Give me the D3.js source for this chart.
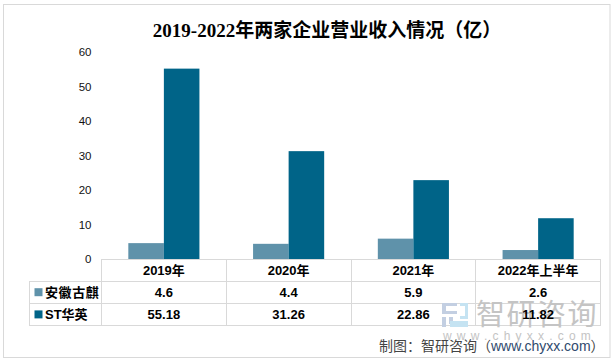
<!DOCTYPE html>
<html lang="zh">
<head>
<meta charset="UTF-8"/>
<script src="https://d3js.org/d3.v7.min.js"></script>
<style>
html, body { margin: 0; padding: 0; background: #fff; }
svg { display: block; }
text { font-family: 'Liberation Sans', 'Noto Sans CJK SC', sans-serif; fill: #000; }
.title { font-family: 'Liberation Serif', 'Noto Sans CJK SC', serif; font-size: 19px; font-weight: 700; }
.axis text { font-family: 'Liberation Sans', sans-serif; font-size: 11.5px; fill: #111; }
.cell { font-size: 13px; font-weight: 700; }
.grid line { stroke: #d9d9d9; stroke-width: 1; }
</style>
</head>
<body>
<svg id="chart" width="615" height="363"></svg>
<script>
const categories = ['2019年', '2020年', '2021年', '2022年上半年'];
const seriesNames = ['安徽古麒', 'ST华英'];
const anhui = [4.6, 4.4, 5.9, 2.6];
const huaying = [55.18, 31.26, 22.86, 11.82];
const anhuiLabels = ['4.6', '4.4', '5.9', '2.6'];
const huayingLabels = ['55.18', '31.26', '22.86', '11.82'];
const yTicks = [0, 10, 20, 30, 40, 50, 60];
const colors = ['#5f92aa', '#006488'];

const svg = d3.select('#chart');

const margin = { left: 101.5, right: 600.5, top: 52, bottom: 259 };
const rowH = 22.2;
const legendLeft = 29.5;

// outer frame
svg.append('rect')
  .attr('x', 3.5).attr('y', 4.5)
  .attr('width', 606.5).attr('height', 353)
  .attr('fill', '#fff')
  .attr('stroke', '#d9d9d9');

svg.append('text')
  .attr('class', 'title')
  .attr('x', 327).attr('y', 37)
  .attr('text-anchor', 'middle')
  .text('2019-2022年两家企业营业收入情况（亿）');

const x = d3.scaleBand().domain(categories).range([margin.left, margin.right]);
const y = d3.scaleLinear().domain([0, 60]).range([margin.bottom, margin.top]);
const barW = x.bandwidth() * 0.285;

// y axis, labels only
const yAxis = svg.append('g')
  .attr('class', 'axis')
  .attr('transform', `translate(${margin.left},0)`)
  .call(d3.axisLeft(y).tickValues(yTicks).tickSize(0).tickPadding(10));
yAxis.select('.domain').remove();

[anhui, huaying].forEach((vals, s) => {
  svg.append('g').selectAll('rect')
    .data(vals)
    .join('rect')
    .attr('x', (d, i) => x(categories[i]) + x.bandwidth() / 2 - barW + s * barW)
    .attr('y', d => y(d))
    .attr('width', barW)
    .attr('height', d => y(0) - y(d))
    .attr('fill', colors[s]);
});

// data table lines
const grid = svg.append('g').attr('class', 'grid').attr('shape-rendering', 'crispEdges');
d3.range(4).forEach(r => {
  grid.append('line')
    .attr('x1', r === 0 ? margin.left : legendLeft)
    .attr('x2', margin.right)
    .attr('y1', margin.bottom + r * rowH)
    .attr('y2', margin.bottom + r * rowH);
});
categories.forEach((c, i) => {
  grid.append('line')
    .attr('x1', x(c)).attr('x2', x(c))
    .attr('y1', margin.bottom).attr('y2', margin.bottom + 3 * rowH);
});
grid.append('line')
  .attr('x1', margin.right).attr('x2', margin.right)
  .attr('y1', margin.bottom).attr('y2', margin.bottom + 3 * rowH);
grid.append('line')
  .attr('x1', legendLeft).attr('x2', legendLeft)
  .attr('y1', margin.bottom + rowH).attr('y2', margin.bottom + 3 * rowH);

// watermark goes under the table text
const mark = svg.append('g');
mark.append('path')
  .attr('d', 'M442 303h15v3h-11v5h11v3h-15z M442 317h4v10h-4z M449 317h4v7h-4z')
  .attr('fill', '#c3cfe2');
mark.append('path')
  .attr('d', 'M460 303h8v16h-8v-3h5v-10h-5z M450 321h18v6h-18v-3h15v0h-15z')
  .attr('fill', '#c5e3f2');
mark.append('text')
  .attr('x', 476).attr('y', 325)
  .style('font-family', "'Noto Sans CJK SC', sans-serif")
  .style('font-size', '29px')
  .style('fill', '#c4c4c4')
  .style('letter-spacing', '1.5px')
  .text('智研咨询');
mark.append('text')
  .attr('x', 443).attr('y', 340)
  .style('font-size', '12px')
  .style('fill', '#c4c4c4')
  .style('letter-spacing', '5.2px')
  .text('www.chyxx.com');

// table text
[categories, anhuiLabels, huayingLabels].forEach((row, r) => {
  svg.append('g').selectAll('text')
    .data(row)
    .join('text')
    .attr('class', 'cell')
    .attr('x', (d, i) => x(categories[i]) + x.bandwidth() / 2)
    .attr('y', margin.bottom + r * rowH + 15.5)
    .attr('text-anchor', 'middle')
    .text(d => d);
});

seriesNames.forEach((n, i) => {
  const top = margin.bottom + (i + 1) * rowH;
  svg.append('rect')
    .attr('x', 34.5).attr('y', top + 7)
    .attr('width', 8).attr('height', 8)
    .attr('fill', colors[i]);
  svg.append('text')
    .attr('class', 'cell')
    .attr('x', 45).attr('y', top + 15.5)
    .style('letter-spacing', i === 0 ? '0.6px' : '0')
    .text(n);
});

// source line
const src = svg.append('text')
  .attr('x', 379).attr('y', 351)
  .style('font-size', '14px')
  .style('font-family', "'Noto Sans CJK SC', sans-serif")
  .style('fill', '#444');
src.append('tspan').text('制图：智研咨询（');
src.append('tspan').style('fill', '#2f4a6d').style('font-family', "'Liberation Sans', sans-serif").text('www.chyxx.com');
src.append('tspan').text('）');
</script>
</body>
</html>
